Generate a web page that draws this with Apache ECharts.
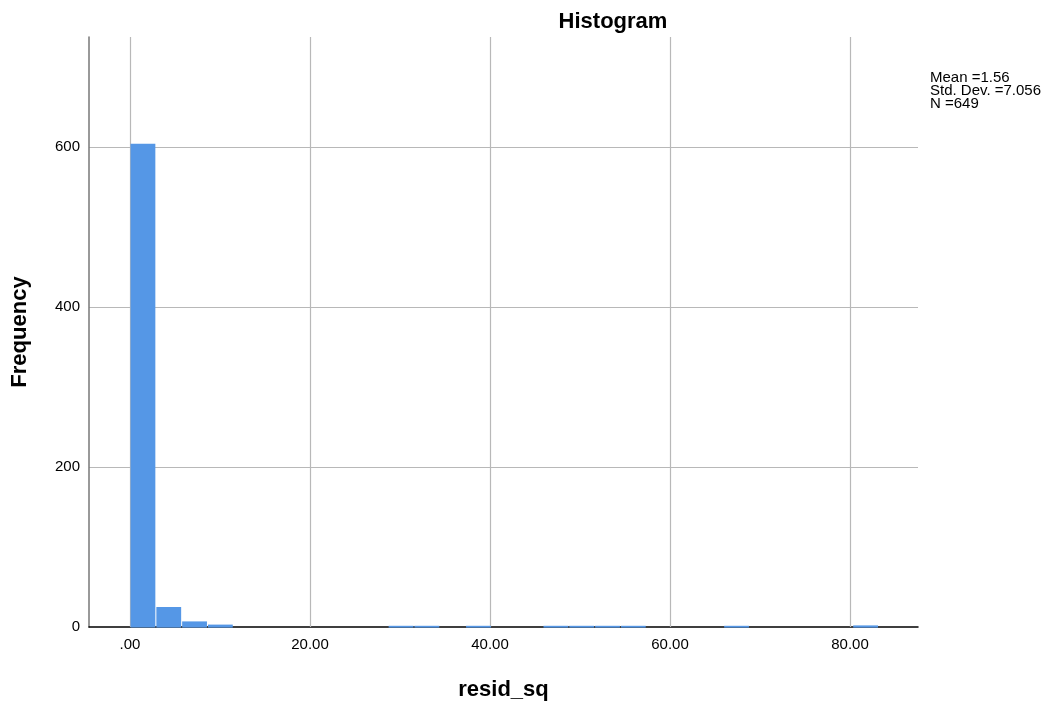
<!DOCTYPE html>
<html>
<head>
<meta charset="utf-8">
<script src="https://cdn.jsdelivr.net/npm/echarts@6/dist/echarts.min.js"></script>
<style>html,body{margin:0;padding:0;background:#fff}#c{width:1057px;height:706px}</style>
</head>
<body>
<div id="c"></div>
<script>
// Histogram bins
var binStart = 0;
var binWidth = 2.868;
var counts = [604, 25, 7, 3, 0, 0, 0, 0, 0, 0, 1, 1, 0, 1, 0, 0, 1, 1, 1, 1, 0, 0, 0, 1, 0, 0, 0, 0, 2];
var xTicks = [0, 20, 40, 60, 80];
var xTickLabels = ['.00', '20.00', '40.00', '60.00', '80.00'];
var yTicks = [0, 200, 400, 600];
var statsLines = ['Mean =1.56', 'Std. Dev. =7.056', 'N =649'];

var data = counts.map(function (c, i) {
  return [binStart + i * binWidth, binStart + (i + 1) * binWidth, c];
});

var chart = echarts.init(document.getElementById('c'));
var font = '"Liberation Sans", Arial, sans-serif';
chart.setOption({
  animation: false,
  backgroundColor: '#fff',
  title: {
    text: 'Histogram', left: 608, top: 6, textAlign: 'center',
    textStyle: { fontFamily: font, fontSize: 22, fontWeight: 'bold', color: '#000' }
  },
  graphic: [{
    type: 'text', left: 930, top: 70,
    style: { text: statsLines.join('\n'), font: '15px ' + font, fill: '#000', lineHeight: 13 }
  }],
  grid: { left: 89, right: 139, top: 37, bottom: 79 },
  xAxis: {
    type: 'value', min: -4.56, max: 87.56,
    name: 'resid_sq', nameLocation: 'middle', nameGap: 52,
    nameTextStyle: { fontFamily: font, fontSize: 22, fontWeight: 'bold', color: '#000' },
    axisLine: { show: true, onZero: false, lineStyle: { color: '#000', width: 1.5 } },
    axisTick: { show: false },
    splitLine: { show: false },
    axisLabel: {
      customValues: xTicks, margin: 10,
      formatter: function (v) { var i = xTicks.indexOf(v); return i >= 0 ? xTickLabels[i] : ''; },
      fontFamily: font, fontSize: 15, color: '#000'
    }
  },
  yAxis: {
    type: 'value', min: 0, max: 737.5, interval: 200,
    name: 'Frequency', nameLocation: 'middle', nameGap: 58, nameRotate: 90,
    nameTextStyle: { fontFamily: font, fontSize: 22, fontWeight: 'bold', color: '#000' },
    axisLine: { show: true, onZero: false, lineStyle: { color: '#777', width: 1.5 } },
    axisTick: { show: false },
    splitLine: { show: true, showMinLine: false, showMaxLine: false, lineStyle: { color: '#b8b8b8', width: 1.2 } },
    axisLabel: {
      showMaxLabel: false, margin: 9,
      formatter: function (v) { return yTicks.indexOf(v) >= 0 ? String(v) : ''; },
      fontFamily: font, fontSize: 15, color: '#000'
    }
  },
  series: [{
    type: 'custom',
    data: data,
    encode: { x: [0, 1], y: 2 },
    renderItem: function (params, api) {
      if (!api.value(2)) return null;
      var p0 = api.coord([api.value(0), 0]);
      var p1 = api.coord([api.value(1), api.value(2)]);
      var top = Math.min(p1[1], p0[1] - 1.2);
      return {
        type: 'rect',
        shape: { x: p0[0] + 0.5, y: top, width: p1[0] - p0[0] - 1, height: p0[1] + 0.6 - top },
        style: { fill: '#5597e6' }
      };
    },
    z: 10,
    markLine: {
      silent: true, symbol: 'none', label: { show: false },
      lineStyle: { color: '#b8b8b8', width: 1.2, type: 'solid' },
      data: xTicks.map(function (v) { return { xAxis: v }; }),
      z: 1
    }
  }]
});
</script>
</body>
</html>
